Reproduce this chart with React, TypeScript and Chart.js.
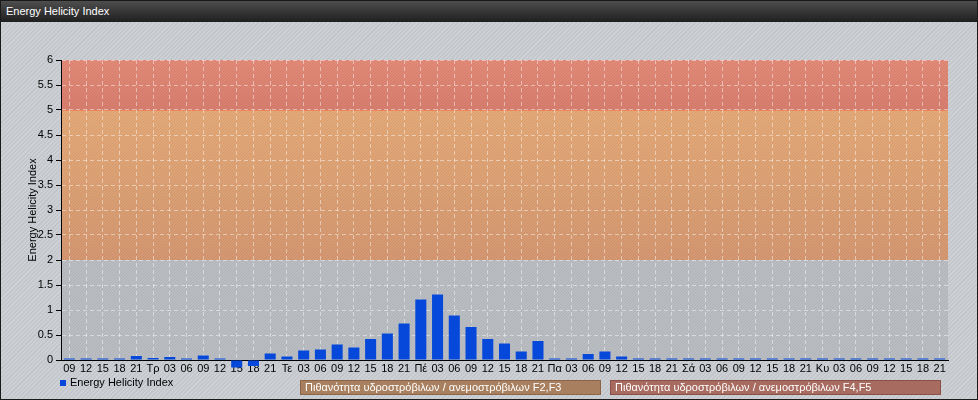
import React, { useEffect, useRef } from "react";
import { Chart, registerables } from "chart.js";

Chart.register(...registerables);

const FONT = "'Liberation Sans', Arial, sans-serif";

const categories = [
  "09", "12", "15", "18", "21",
  "Τρ", "03", "06", "09", "12", "15", "18", "21",
  "Τε", "03", "06", "09", "12", "15", "18", "21",
  "Πέ", "03", "06", "09", "12", "15", "18", "21",
  "Πα", "03", "06", "09", "12", "15", "18", "21",
  "Σά", "03", "06", "09", "12", "15", "18", "21",
  "Κυ", "03", "06", "09", "12", "15", "18", "21",
];

const helicityValues = [
  0.03, 0.03, 0.03, 0.03, 0.08,
  0.04, 0.06, 0.03, 0.09, 0.03, -0.15, -0.12, 0.13,
  0.07, 0.19, 0.21, 0.31, 0.25, 0.42, 0.53, 0.73,
  1.21, 1.31, 0.89, 0.66, 0.42, 0.33, 0.17, 0.38,
  0.03, 0.03, 0.12, 0.17, 0.07, 0.03, 0.03, 0.03,
  0.03, 0.03, 0.03, 0.03, 0.03, 0.03, 0.03, 0.03,
  0.03, 0.03, 0.03, 0.03, 0.03, 0.03, 0.03, 0.03,
];

const seriesLabel = "Energy Helicity Index";
const chartTitle = "Energy Helicity Index";
const yAxisTitle = "Energy Helicity Index";
const yMin = 0;
const yMax = 6;
const yStep = 0.5;

const bandLow = [2, 5];
const bandHigh = [5, 6];
const bandLabels = [
  "Πιθανότητα υδροστρόβιλων / ανεμοστρόβιλων F2,F3",
  "Πιθανότητα υδροστρόβιλων / ανεμοστρόβιλων F4,F5",
];

const bandGradients = [
  ["#e5aa78", "#d59872"],
  ["#e38b78", "#d87e6f"],
];
const bandLegendColors = [
  { bg: "#a8805f", border: "#8a6548" },
  { bg: "#a86b60", border: "#8a5048" },
];

const bgPlugin = {
  id: "plotBackground",
  beforeDraw(chart: any) {
    const { ctx, chartArea: a, scales } = chart;
    const y = scales.y;
    ctx.save();
    ctx.fillStyle = "#babec3";
    ctx.fillRect(a.left, a.top, a.width, a.height);
    bandLow.forEach((lo, i) => {
      const hi = bandHigh[i];
      const yTop = y.getPixelForValue(hi);
      const yBot = y.getPixelForValue(lo);
      const g = ctx.createLinearGradient(0, yTop, 0, yBot);
      g.addColorStop(0, bandGradients[i][0]);
      g.addColorStop(1, bandGradients[i][1]);
      ctx.fillStyle = g;
      ctx.fillRect(a.left, yTop, a.width, yBot - yTop);
    });
    ctx.beginPath();
    ctx.rect(a.left, a.top, a.width, a.height);
    ctx.clip();
    ctx.strokeStyle = "rgba(0,0,0,0.055)";
    ctx.lineWidth = 1;
    for (let k = -a.height; k < a.width; k += 3) {
      ctx.beginPath();
      ctx.moveTo(a.left + k, a.bottom);
      ctx.lineTo(a.left + k + a.height, a.top);
      ctx.stroke();
    }
    const y5 = Math.round(y.getPixelForValue(bandLow[1])) + 0.5;
    ctx.strokeStyle = "rgba(240,110,70,0.55)";
    ctx.beginPath();
    ctx.moveTo(a.left, y5);
    ctx.lineTo(a.right, y5);
    ctx.stroke();
    ctx.restore();
  },
};

export default function App() {
  const canvasRef = useRef<HTMLCanvasElement | null>(null);

  useEffect(() => {
    if (!canvasRef.current) return;
    const chart = new Chart(canvasRef.current, {
      type: "bar",
      data: {
        labels: categories,
        datasets: [
          {
            label: seriesLabel,
            data: helicityValues,
            backgroundColor: "#0648da",
            borderWidth: 0,
            barPercentage: 0.66,
            categoryPercentage: 1,
            clip: false as any,
          },
        ],
      },
      options: {
        animation: false,
        responsive: false,
        maintainAspectRatio: false,
        layout: { padding: { top: 60, right: 30, left: 0, bottom: 0 } },
        plugins: {
          legend: { display: false },
          tooltip: { enabled: false },
          title: { display: false },
        },
        scales: {
          x: {
            grid: {
              offset: false,
              color: "rgba(255,255,255,0.45)",
              drawTicks: false,
              lineWidth: 1,
            },
            border: { color: "#000", width: 1, dash: [4, 3] },
            ticks: {
              color: "#000",
              font: { family: FONT, size: 11 },
              autoSkip: false,
              maxRotation: 0,
              minRotation: 0,
              padding: 2,
            },
            afterFit: (s: any) => {
              s.height = 40;
            },
          },
          y: {
            min: yMin,
            max: yMax,
            ticks: {
              stepSize: yStep,
              color: "#000",
              font: { family: FONT, size: 11 },
              padding: 3,
              callback: (v: any) => String(v),
            },
            grid: {
              color: "rgba(255,255,255,0.45)",
              tickColor: "#000",
              tickLength: 5,
              drawTicks: true,
            },
            border: { color: "#000", width: 1, dash: [4, 3] },
            title: {
              display: true,
              text: yAxisTitle,
              color: "#000",
              font: { family: FONT, size: 11 },
              padding: { top: 26, bottom: 0 },
            },
            afterFit: (s: any) => {
              s.width = 61;
            },
          },
        },
      },
      plugins: [bgPlugin],
    });
    return () => chart.destroy();
  }, []);

  return (
    <div
      style={{
        position: "fixed",
        left: 0,
        top: 0,
        width: 978,
        height: 400,
        boxSizing: "border-box",
        border: "1px solid #1a1a1a",
        background:
          "repeating-linear-gradient(135deg, #cdd1d6 0px, #cdd1d6 1.5px, #c3c7cc 1.5px, #c3c7cc 3px)",
        overflow: "hidden",
        fontFamily: FONT,
      }}
    >
      <canvas
        ref={canvasRef}
        width={978}
        height={400}
        style={{ position: "absolute", left: -1, top: -1, width: 978, height: 400 }}
      />
      <div
        style={{
          position: "absolute",
          left: 0,
          top: 0,
          right: 0,
          height: 21,
          background: "linear-gradient(to bottom, #4e4e4e, #1f1f1f)",
          color: "#fff",
          fontSize: 11,
          lineHeight: "21px",
          paddingLeft: 5,
        }}
      >
        {chartTitle}
      </div>
      <div
        style={{
          position: "absolute",
          left: 59,
          top: 379,
          width: 6,
          height: 6,
          background: "#0648da",
        }}
      />
      <div
        style={{
          position: "absolute",
          left: 69,
          top: 374,
          fontSize: 11,
          lineHeight: "14px",
          color: "#000",
          whiteSpace: "nowrap",
        }}
      >
        {seriesLabel}
      </div>
      {bandLabels.map((t, i) => (
        <div
          key={i}
          style={{
            position: "absolute",
            left: i === 0 ? 299 : 609,
            top: 379,
            width: i === 0 ? 301 : 331,
            height: 15,
            boxSizing: "border-box",
            background: bandLegendColors[i].bg,
            border: `1px solid ${bandLegendColors[i].border}`,
            color: "#fff",
            fontSize: 11,
            lineHeight: "13px",
            paddingLeft: 4,
            whiteSpace: "nowrap",
          }}
        >
          {t}
        </div>
      ))}
    </div>
  );
}
